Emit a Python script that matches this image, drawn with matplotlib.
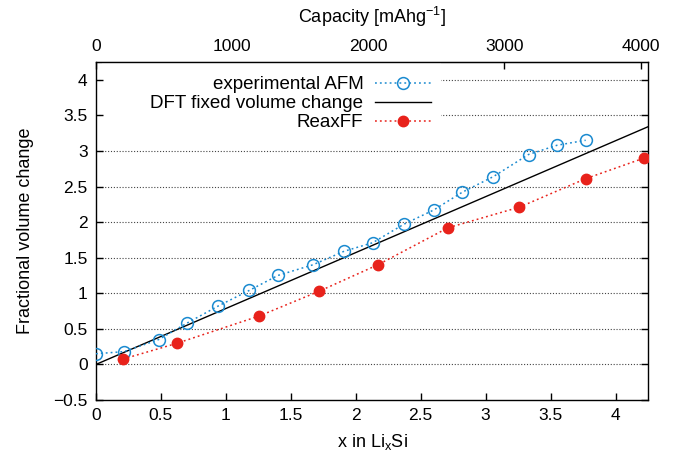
import matplotlib
matplotlib.use('Agg')
import matplotlib.pyplot as plt

plt.rcParams['font.family'] = ['Liberation Sans', 'DejaVu Sans']
plt.rcParams['mathtext.fontset'] = 'custom'
plt.rcParams['mathtext.rm'] = 'Liberation Sans'
plt.rcParams['mathtext.it'] = 'Liberation Sans:italic'
plt.rcParams['axes.unicode_minus'] = True

# experimental AFM (open circles)
afm_x = [0.0, 0.217, 0.483, 0.70, 0.94, 1.18, 1.40, 1.67, 1.91, 2.13, 2.37, 2.60, 2.82, 3.06, 3.33, 3.55, 3.77]
afm_y = [0.15, 0.18, 0.35, 0.58, 0.82, 1.04, 1.25, 1.40, 1.59, 1.71, 1.97, 2.17, 2.42, 2.64, 2.95, 3.08, 3.15]

# DFT fixed volume change (straight line)
dft_x = [0.0, 4.25]
dft_y = [0.0, 3.34]

# ReaxFF (filled circles)
reax_x = [0.207, 0.62, 1.256, 1.72, 2.17, 2.71, 3.26, 3.77, 4.22]
reax_y = [0.075, 0.295, 0.68, 1.03, 1.40, 1.92, 2.21, 2.61, 2.90]

y_ticks = [-0.5, 0, 0.5, 1, 1.5, 2, 2.5, 3, 3.5, 4]
x_ticks = [0, 0.5, 1, 1.5, 2, 2.5, 3, 3.5, 4]
cap_ticks = [0, 1000, 2000, 3000, 4000]
mah_per_li = 954.0  # mAh/g per Li in LixSi

fig = plt.figure(figsize=(6.84, 4.62), dpi=100)
ax = fig.add_axes([96/684, 1-400/462, (648-96)/684, (400-62)/462])

for yv in y_ticks[1:]:
    ax.axhline(yv, color='#444444', lw=0.8, ls=(0, (1, 1.6)), zorder=0)
# key background (gnuplot-style opaque key box)
ax.axhspan(3.3, 4.25, xmin=0.01, xmax=0.625, color='white', lw=0, zorder=0.5)

ax.plot(afm_x, afm_y, color='#1a8ad0', ls=(0, (1.2, 2)), lw=1.1, marker='o',
        ms=8.5, mfc='none', mew=1.1, label='experimental AFM', zorder=3)
ax.plot(dft_x, dft_y, color='black', lw=1.0, label='DFT fixed volume change', zorder=2)
ax.plot(reax_x, reax_y, color='#e8221b', ls=(0, (1.2, 2)), lw=1.1, marker='o',
        ms=7.5, mec='#e8221b', label='ReaxFF', zorder=3)

ax.set_xlim(0, 4.25)
ax.set_ylim(-0.5, 4.25)
ax.set_xticks(x_ticks)
ax.set_xticklabels([f'{v:g}' for v in x_ticks])
ax.set_yticks(y_ticks)
ax.set_yticklabels([f'{v:g}'.replace('-', '\u2212') for v in y_ticks])
ax.tick_params(direction='in', length=5, width=1, labelsize=12.5, right=True, top=False, pad=6)
for s in ax.spines.values():
    s.set_linewidth(1.0)

ax.set_xlabel('x in Li$_\\mathrm{x}$Si', fontsize=13, labelpad=6)
ax.set_ylabel('Fractional volume change', fontsize=13, labelpad=14)

top = ax.secondary_xaxis('top', functions=(lambda x: x*mah_per_li, lambda c: c/mah_per_li))
top.set_xticks(cap_ticks)
top.tick_params(direction='in', length=5, width=1, labelsize=12.5, pad=6)
top.set_xlabel('Capacity [mAhg$^{-1}$]', fontsize=13, labelpad=11)

leg = ax.legend(loc='upper right', bbox_to_anchor=(0.632, 1.0), markerfirst=False,
                frameon=True, fontsize=13.5, handlelength=3.0, handletextpad=0.6,
                labelspacing=0.1, borderaxespad=0.45, borderpad=0.3)
leg.get_frame().set_edgecolor('none')
leg.get_frame().set_facecolor('white')
leg.get_frame().set_alpha(1.0)
leg.get_frame().set_boxstyle('square', pad=0)

fig.savefig('out.png', dpi=100)
